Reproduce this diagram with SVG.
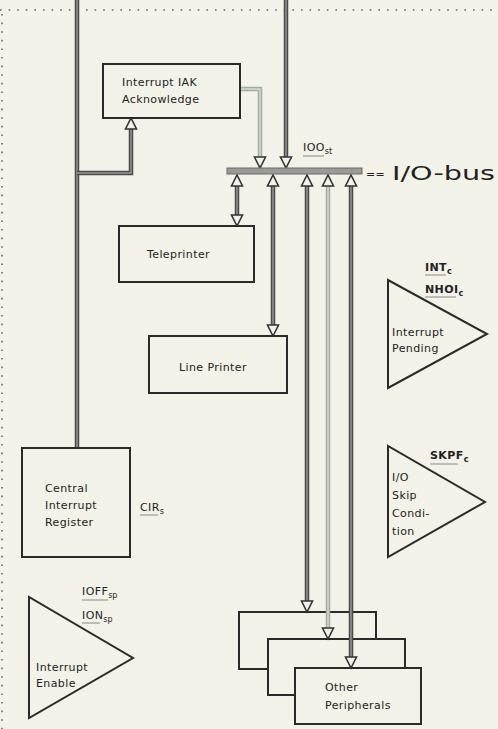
<svg xmlns="http://www.w3.org/2000/svg" xmlns:xlink="http://www.w3.org/1999/xlink" width="498" height="729" viewBox="0 0 498 729">
<style>
.bg{fill:#f3f2e9}
.box{fill:#f3f2e9;stroke:#2a2a2a;stroke-width:2}
.tri{fill:#f3f2e9;stroke:#2a2a2a;stroke-width:2;stroke-linejoin:miter}
.t{font-family:"DejaVu Sans","Liberation Sans",sans-serif;font-size:11px;letter-spacing:0.4px;fill:#222}
.s{font-family:"DejaVu Sans","Liberation Sans",sans-serif;font-size:8px;letter-spacing:0;fill:#222}
.ul{stroke:#888;stroke-width:1}
.dot{stroke:#666;stroke-width:1.6;stroke-dasharray:1.6 7;fill:none}
.po{stroke:#4a4a4a;stroke-width:4.5;fill:none}
.pi{stroke:#9a9a9a;stroke-width:1.4;fill:none}
.lo{stroke:#a3aaa0;stroke-width:4.5;fill:none}
.li{stroke:#d9ddd2;stroke-width:1.4;fill:none}
</style>
<defs>
<path id="ad" d="M-5.5,-11 L5.5,-11 L0,0 Z" fill="#f3f2e9" stroke="#333" stroke-width="1.6"/>
<path id="au" d="M-5.5,11 L5.5,11 L0,0 Z" fill="#f3f2e9" stroke="#333" stroke-width="1.6"/>
</defs>
<rect class="bg" x="0" y="0" width="498" height="729"/>
<g id="border">
<line class="dot" x1="0" y1="10" x2="498" y2="10"/>
<line class="dot" x1="2" y1="14" x2="2" y2="729"/>
</g>

<g id="peripherals">
<rect class="box" x="239" y="612" width="137" height="57"/>
<rect class="box" x="268" y="639" width="137" height="56"/>
<rect class="box" x="295" y="668" width="126" height="56"/>
<text class="t" x="325" y="691">Other</text>
<text class="t" x="325" y="709">Peripherals</text>
</g>

<g id="connectors">
<path class="po" d="M77,0 V448"/>
<path class="pi" d="M77,0 V448"/>
<path class="po" d="M77,173 H131 V129"/>
<path class="pi" d="M77,173 H131 V129"/>
<use xlink:href="#au" x="131" y="118"/>
<path class="po" d="M286,0 V157"/>
<path class="pi" d="M286,0 V157"/>
<use xlink:href="#ad" x="286" y="168"/>
<path class="lo" d="M240,89 H260 V157"/>
<path class="li" d="M240,89 H260 V157"/>
<use xlink:href="#ad" x="260" y="168"/>
<path class="po" d="M237,186 V215"/>
<path class="pi" d="M237,186 V215"/>
<use xlink:href="#au" x="237" y="175"/>
<use xlink:href="#ad" x="237" y="226"/>
<path class="po" d="M273,186 V325"/>
<path class="pi" d="M273,186 V325"/>
<use xlink:href="#au" x="273" y="175"/>
<use xlink:href="#ad" x="273" y="336"/>
<path class="po" d="M307,186 V601"/>
<path class="pi" d="M307,186 V601"/>
<use xlink:href="#au" x="307" y="175"/>
<use xlink:href="#ad" x="307" y="612"/>
<path class="lo" d="M328,186 V628"/>
<path class="li" d="M328,186 V628"/>
<use xlink:href="#au" x="328" y="175"/>
<use xlink:href="#ad" x="328" y="639"/>
<path class="po" d="M351,186 V657"/>
<path class="pi" d="M351,186 V657"/>
<use xlink:href="#au" x="351" y="175"/>
<use xlink:href="#ad" x="351" y="668"/>
</g>

<g id="bus">
<rect x="227" y="168" width="135" height="6" fill="#9a9a96" stroke="#6a6a66" stroke-width="1"/>
<text class="t" x="366" y="178" font-size="12" fill="#444">==</text>
<text x="392" y="180" font-family="'DejaVu Sans','Liberation Sans',sans-serif" font-size="19" fill="#222" textLength="103" lengthAdjust="spacingAndGlyphs">I/O-bus</text>
<text class="t" x="303" y="151">IOO<tspan class="s" dy="3">st</tspan></text>
<line class="ul" x1="303" y1="156" x2="324" y2="156"/>
</g>

<g id="iak">
<rect class="box" x="103" y="64" width="137" height="54"/>
<text class="t" x="122" y="86">Interrupt IAK</text>
<text class="t" x="122" y="103">Acknowledge</text>
</g>

<g id="teleprinter">
<rect class="box" x="119" y="226" width="135" height="56"/>
<text class="t" x="147" y="258">Teleprinter</text>
</g>

<g id="lineprinter">
<rect class="box" x="149" y="336" width="138" height="57"/>
<text class="t" x="179" y="371">Line Printer</text>
</g>

<g id="cir">
<rect class="box" x="22" y="448" width="108" height="109"/>
<text class="t" x="45" y="492">Central</text>
<text class="t" x="45" y="509">Interrupt</text>
<text class="t" x="45" y="526">Register</text>
<text class="t" x="140" y="511">CIR<tspan class="s" dy="3">s</tspan></text>
<line class="ul" x1="140" y1="515" x2="158" y2="515"/>
</g>

<g id="pending">
<polygon class="tri" points="388,280 388,388 487,334"/>
<text class="t" x="392" y="336">Interrupt</text>
<text class="t" x="392" y="352">Pending</text>
<text class="t" x="425" y="271" font-weight="bold">INT<tspan class="s" dy="3">c</tspan></text>
<line class="ul" x1="425" y1="275" x2="446" y2="275"/>
<text class="t" x="425" y="293" font-weight="bold">NHOI<tspan class="s" dy="3">c</tspan></text>
<line class="ul" x1="425" y1="297" x2="456" y2="297"/>
</g>

<g id="skip">
<polygon class="tri" points="388,446 388,557 485,502"/>
<text class="t" x="392" y="481">I/O</text>
<text class="t" x="392" y="499">Skip</text>
<text class="t" x="392" y="517">Condi-</text>
<text class="t" x="392" y="535">tion</text>
<text class="t" x="430" y="459" font-weight="bold">SKPF<tspan class="s" dy="3">c</tspan></text>
<line class="ul" x1="430" y1="464" x2="458" y2="464"/>
</g>

<g id="enable">
<polygon class="tri" points="29,597 29,718 133,658"/>
<text class="t" x="36" y="671">Interrupt</text>
<text class="t" x="36" y="687">Enable</text>
<text class="t" x="82" y="595">IOFF<tspan class="s" dy="3">sp</tspan></text>
<line class="ul" x1="82" y1="600" x2="108" y2="600"/>
<text class="t" x="82" y="619">ION<tspan class="s" dy="3">sp</tspan></text>
<line class="ul" x1="82" y1="623" x2="100" y2="623"/>
</g>
</svg>
